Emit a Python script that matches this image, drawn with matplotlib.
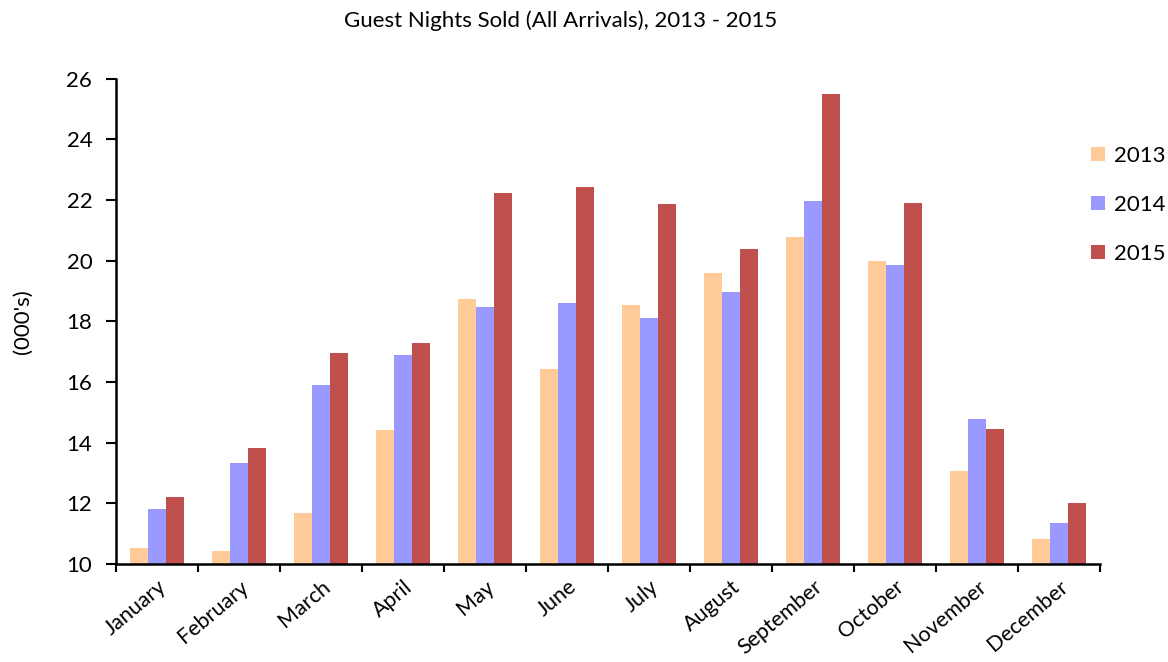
import matplotlib
matplotlib.use("Agg")
import matplotlib.pyplot as plt
import numpy as np

plt.rcParams['font.family'] = ['Lato', 'DejaVu Sans']

months = ["January", "February", "March", "April", "May", "June", "July",
          "August", "September", "October", "November", "December"]
years = ["2013", "2014", "2015"]
v2013 = [10.53, 10.43, 11.68, 14.42, 18.75, 16.44, 18.55, 19.60, 20.79, 20.00, 13.07, 10.83]
v2014 = [11.82, 13.33, 15.91, 16.90, 18.48, 18.61, 18.12, 18.98, 21.98, 19.87, 14.79, 11.35]
v2015 = [12.21, 13.83, 16.96, 17.29, 22.24, 22.44, 21.88, 20.40, 25.51, 21.91, 14.46, 12.01]
colors = ["#FFCC99", "#9999FF", "#C0504D"]
yticks = [10, 12, 14, 16, 18, 20, 22, 24, 26]

FS = 16
fig = plt.figure(figsize=(11.68, 6.62), dpi=100)
ax = fig.add_axes([0.0993, 0.148, 0.8427, 0.733])

x = np.arange(len(months))
w = 0.22
base = 10
for i, (vals, c, lab) in enumerate(zip([v2013, v2014, v2015], colors, years)):
    ax.bar(x + (i - 1) * w, np.array(vals) - base, width=w, bottom=base,
           color=c, label=lab, edgecolor='none')

ax.set_xlim(-0.5, len(months) - 0.5)
ax.set_ylim(10, 26)
ax.set_yticks(yticks)
ax.set_yticklabels([str(t) for t in yticks], fontsize=FS)
ax.set_xticks(x)
ax.set_xticklabels(months, rotation=40, ha='right', rotation_mode='anchor', fontsize=15.5)
ax.tick_params(axis='x', length=0, pad=9)
ax.set_xticks(np.arange(-0.5, len(months), 1), minor=True)
ax.tick_params(axis='x', which='minor', length=6, width=1.5, direction='out')
ax.tick_params(axis='y', length=7, width=1.5, direction='out', pad=10)
for s in ['top', 'right']:
    ax.spines[s].set_visible(False)
for s in ['left', 'bottom']:
    ax.spines[s].set_linewidth(1.8)

ax.set_ylabel("(000's)", fontsize=FS, labelpad=24)
fig.text(0.48, 0.968, "Guest Nights Sold (All Arrivals), 2013 - 2015",
         ha='center', va='center', fontsize=FS)

leg = ax.legend(loc='upper left', bbox_to_anchor=(0.982, 0.88), frameon=False,
                fontsize=FS, handlelength=0.6, handleheight=0.6,
                labelspacing=1.3, handletextpad=0.4, borderaxespad=0)

fig.savefig("out.png", dpi=100)
